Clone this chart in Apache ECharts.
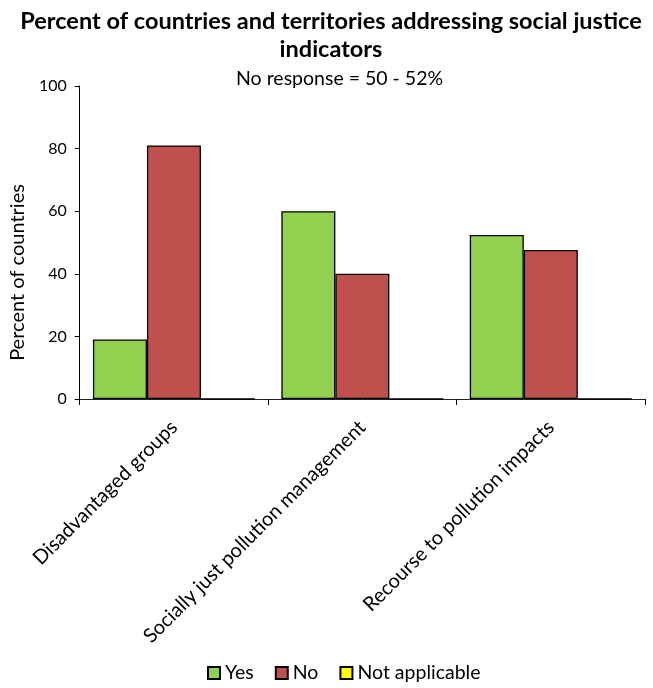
<!DOCTYPE html>
<html>
<head>
<meta charset="utf-8">
<script src="https://cdn.jsdelivr.net/npm/echarts@6/dist/echarts.min.js"></script>
<style>
  html, body { margin: 0; padding: 0; background: #fff; }
  #chart { width: 653px; height: 688px; }
</style>
</head>
<body>
<div id="chart"></div>
<script>
// Social justice indicators, share of countries per answer
const categories = ['Disadvantaged groups', 'Socially just pollution management', 'Recourse to pollution impacts'];
const yesValues = [19, 60, 52.4];
const noValues = [81, 40, 47.6];
const notApplicableValues = [0, 0, 0];
const yTicks = { min: 0, max: 100, interval: 20 };

const FONT = 'Lato, "Open Sans", sans-serif';
const chart = echarts.init(document.getElementById('chart'), null, { renderer: 'canvas' });

const barStyle = (color) => ({ color: color, borderColor: '#000', borderWidth: 1.3 });

chart.setOption({
  animation: false,
  textStyle: { fontFamily: FONT },
  title: [
    {
      text: 'Percent of countries and territories addressing social justice\nindicators',
      left: 326, top: 2, textAlign: 'center',
      textStyle: { fontFamily: FONT, fontSize: 23.5, fontWeight: 'bold', color: '#000', lineHeight: 28 }
    },
    {
      text: 'No response = 50 - 52%',
      left: 231, top: 64,
      textStyle: { fontFamily: FONT, fontSize: 19.5, fontWeight: 'normal', color: '#000' }
    }
  ],
  legend: {
    top: 663, left: 207, padding: 0,
    icon: 'rect', itemWidth: 12, itemHeight: 12, itemGap: 21,
    textStyle: { fontFamily: FONT, fontSize: 19.5, color: '#000' },
    data: ['Yes', 'No', 'Not applicable']
  },
  grid: { left: 78, right: 8, top: 86, bottom: 289, containLabel: false },
  xAxis: {
    type: 'category',
    data: categories,
    axisLine: { lineStyle: { color: '#222', width: 1 } },
    axisTick: { show: true, length: 6, lineStyle: { color: '#000' } },
    axisLabel: { rotate: 45, interval: 0, fontFamily: FONT, fontSize: 20, color: '#000', margin: 25 }
  },
  yAxis: {
    type: 'value',
    min: yTicks.min, max: yTicks.max, interval: yTicks.interval,
    name: 'Percent of countries',
    nameLocation: 'middle', nameGap: 46, nameRotate: 90,
    nameTextStyle: { fontFamily: FONT, fontSize: 20, color: '#000', padding: [0, 60, 0, 0] },
    axisLine: { show: true, lineStyle: { color: '#000', width: 1 } },
    axisTick: { show: true, length: 5, lineStyle: { color: '#000' } },
    splitLine: { show: false },
    axisLabel: { fontFamily: FONT, fontSize: 16, color: '#000', margin: 13 }
  },
  series: [
    { name: 'Yes', type: 'bar', data: yesValues, itemStyle: barStyle('#92D050'), barGap: '0%', barCategoryGap: '14%' },
    { name: 'No', type: 'bar', data: noValues, itemStyle: barStyle('#C0504D') },
    { name: 'Not applicable', type: 'bar', data: notApplicableValues, itemStyle: barStyle('#FFFF00') }
  ]
});
</script>
</body>
</html>
